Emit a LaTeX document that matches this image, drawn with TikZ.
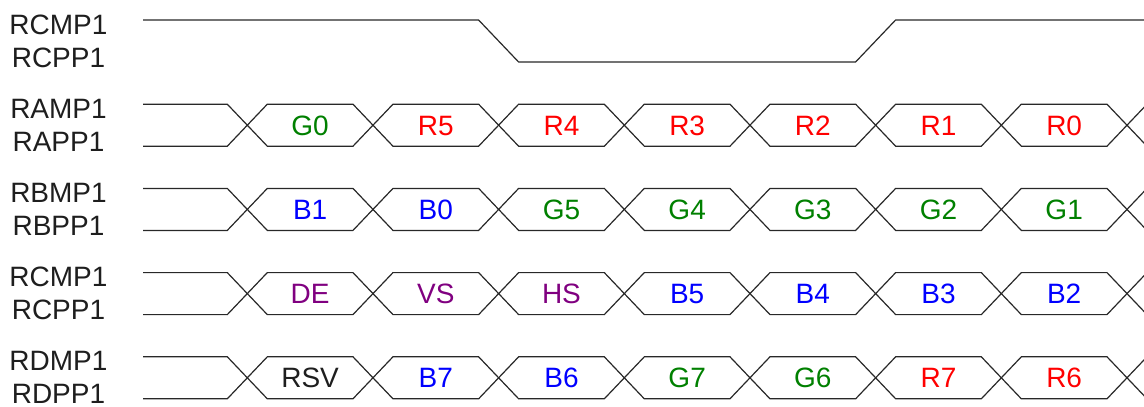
\documentclass[tikz,border=0pt]{standalone}
\usepackage{fontspec}
\setmainfont{Liberation Sans}
\definecolor{sgreen}{RGB}{0,128,0}
\definecolor{sred}{RGB}{255,0,0}
\definecolor{sblue}{RGB}{0,0,255}
\definecolor{spurple}{RGB}{128,0,128}
\definecolor{sblack}{RGB}{30,30,30}
\definecolor{swire}{RGB}{40,40,40}
\def\rowA{G0/sgreen,R5/sred,R4/sred,R3/sred,R2/sred,R1/sred,R0/sred}
\def\rowB{B1/sblue,B0/sblue,G5/sgreen,G4/sgreen,G3/sgreen,G2/sgreen,G1/sgreen}
\def\rowC{DE/spurple,VS/spurple,HS/spurple,B5/sblue,B4/sblue,B3/sblue,B2/sblue}
\def\rowD{RSV/sblack,B7/sblue,B6/sblue,G7/sgreen,G6/sgreen,R7/sred,R6/sred}
\begin{document}
\begin{tikzpicture}[x=1pt,y=-1pt,
  wire/.style={draw=swire,line width=1.2pt,line join=miter},
  sig/.style={font=\fontsize{28}{32}\selectfont,inner sep=0pt,anchor=base,text=sblack},
]
\useasboundingbox (0,0) rectangle (1144,407);
\clip (0,0) rectangle (1144,407);
% clock
\node[sig] (lck1) at (58.5,34) {RCMP1};
\node[sig] (lck2) at (58.5,67.5) {RCPP1};
\draw[wire] (143,20) -- (478.6,20) -- (518.6,62) -- (855.6,62) -- (895.6,20) -- (1150,20);
% data rows
\foreach \la/\lb/\cells [count=\i] in {RAMP1/RAPP1/\rowA, RBMP1/RBPP1/\rowB, RCMP1/RCPP1/\rowC, RDMP1/RDPP1/\rowD}{
  \edef\cellsx{\cells}
  \pgfmathsetmacro\yt{20+84.2*\i}
  \pgfmathsetmacro\yb{\yt+42}
  \pgfmathsetmacro\ym{\yt+21}
  \node[sig] (la\i) at (58.5,34+84*\i) {\la};
  \node[sig] (lb\i) at (58.5,67.5+83.9*\i) {\lb};
  \draw[wire] (143,\yt) -- (227.3,\yt) -- (247.3,\ym) -- (227.3,\yb) -- (143,\yb);
  \foreach \t/\c [count=\k from 0] in \cellsx {
    \pgfmathsetmacro\xa{247.3+125.67*\k}
    \pgfmathsetmacro\xb{\xa+125.67}
    \draw[wire] (\xa,\ym) -- (\xa+20,\yt) -- (\xb-20,\yt) -- (\xb,\ym) -- (\xb-20,\yb) -- (\xa+20,\yb) -- cycle;
    \node[sig,text=\c] (c\i-\k) at ({(\xa+\xb)/2},\ym+10) {\t};
  }
  \draw[wire] (1147,\yt) -- (1127,\ym) -- (1147,\yb);
}
\end{tikzpicture}
\end{document}
